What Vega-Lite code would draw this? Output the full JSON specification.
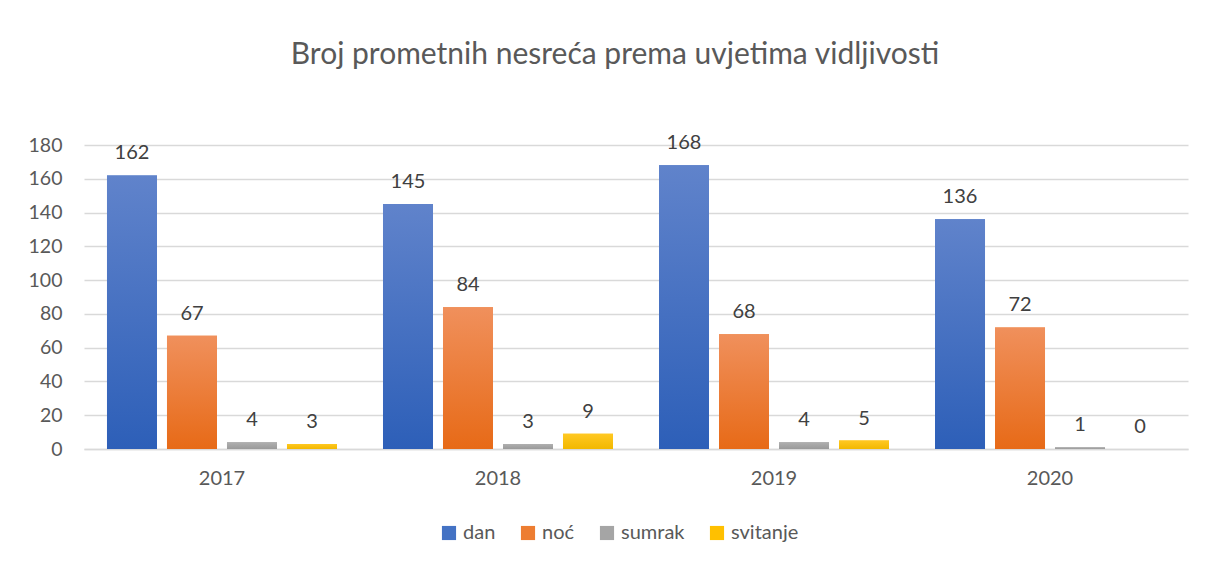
{
  "$schema": "https://vega.github.io/schema/vega-lite/v6.json",
  "width": 1104,
  "height": 304,
  "autosize": {"type": "none"},
  "padding": {"left": 84, "top": 145, "right": 20, "bottom": 115},
  "background": "white",
  "title": {
    "text": "Broj prometnih nesreća prema uvjetima vidljivosti",
    "font": "Lato",
    "fontSize": 30,
    "fontWeight": "normal",
    "color": "#595959",
    "anchor": "middle",
    "offset": 63,
    "dx": -21
  },
  "data": {
    "values": [
      {"godina": "2017", "uvjet": "dan", "broj": 162},
      {"godina": "2017", "uvjet": "noć", "broj": 67},
      {"godina": "2017", "uvjet": "sumrak", "broj": 4},
      {"godina": "2017", "uvjet": "svitanje", "broj": 3},
      {"godina": "2018", "uvjet": "dan", "broj": 145},
      {"godina": "2018", "uvjet": "noć", "broj": 84},
      {"godina": "2018", "uvjet": "sumrak", "broj": 3},
      {"godina": "2018", "uvjet": "svitanje", "broj": 9},
      {"godina": "2019", "uvjet": "dan", "broj": 168},
      {"godina": "2019", "uvjet": "noć", "broj": 68},
      {"godina": "2019", "uvjet": "sumrak", "broj": 4},
      {"godina": "2019", "uvjet": "svitanje", "broj": 5},
      {"godina": "2020", "uvjet": "dan", "broj": 136},
      {"godina": "2020", "uvjet": "noć", "broj": 72},
      {"godina": "2020", "uvjet": "sumrak", "broj": 1},
      {"godina": "2020", "uvjet": "svitanje", "broj": 0}
    ]
  },
  "encoding": {
    "x": {
      "field": "godina",
      "type": "nominal",
      "scale": {"paddingInner": 0.1667, "paddingOuter": 0.0833},
      "axis": {
        "title": null,
        "labelAngle": 0,
        "labelFont": "Lato",
        "labelFontSize": 20,
        "labelColor": "#595959",
        "labelPadding": 19,
        "ticks": false,
        "domainColor": "#d9d9d9",
        "domainWidth": 1.5,
        "grid": false
      }
    },
    "xOffset": {
      "field": "uvjet",
      "type": "nominal",
      "sort": ["dan", "noć", "sumrak", "svitanje"],
      "scale": {"domain": ["dan", "noć", "sumrak", "svitanje"], "paddingInner": 0.1667, "paddingOuter": 0}
    },
    "y": {
      "field": "broj",
      "type": "quantitative",
      "scale": {"domain": [0, 180], "nice": false},
      "axis": {
        "title": null,
        "values": [0, 20, 40, 60, 80, 100, 120, 140, 160, 180],
        "labelFont": "Lato",
        "labelFontSize": 19.5,
        "labelColor": "#595959",
        "labelPadding": 22,
        "ticks": false,
        "domain": false,
        "gridColor": "#d9d9d9",
        "gridWidth": 1.5
      }
    }
  },
  "layer": [
    {
      "mark": {"type": "bar"},
      "encoding": {
        "color": {
          "field": "uvjet",
          "type": "nominal",
          "sort": ["dan", "noć", "sumrak", "svitanje"],
          "scale": {
            "domain": ["dan", "noć", "sumrak", "svitanje"],
            "range": ["#4472c4", "#ed7d31", "#a5a5a5", "#ffc000"]
          },
          "legend": {
            "title": null,
            "orient": "none",
            "legendX": 355,
            "legendY": 378,
            "direction": "horizontal",
            "symbolType": "square",
            "symbolSize": 200,
            "symbolStrokeWidth": 0,
            "labelFont": "Lato",
            "labelFontSize": 20,
            "labelColor": "#595959",
            "columnPadding": 22,
            "labelOffset": 4
          }
        }
      }
    },
    {
      "transform": [{"filter": "datum.uvjet === 'dan'"}],
      "mark": {"type": "bar", "color": {"gradient": "linear", "x1": 0, "y1": 0, "x2": 0, "y2": 1, "stops": [{"offset": 0, "color": "#6083cb"}, {"offset": 1, "color": "#2d5fb8"}]}}
    },
    {
      "transform": [{"filter": "datum.uvjet === 'noć'"}],
      "mark": {"type": "bar", "color": {"gradient": "linear", "x1": 0, "y1": 0, "x2": 0, "y2": 1, "stops": [{"offset": 0, "color": "#f0905c"}, {"offset": 1, "color": "#e76a17"}]}}
    },
    {
      "transform": [{"filter": "datum.uvjet === 'sumrak'"}],
      "mark": {"type": "bar", "color": {"gradient": "linear", "x1": 0, "y1": 0, "x2": 0, "y2": 1, "stops": [{"offset": 0, "color": "#b0b0b0"}, {"offset": 1, "color": "#9a9a9a"}]}}
    },
    {
      "transform": [{"filter": "datum.uvjet === 'svitanje'"}],
      "mark": {"type": "bar", "color": {"gradient": "linear", "x1": 0, "y1": 0, "x2": 0, "y2": 1, "stops": [{"offset": 0, "color": "#ffc822"}, {"offset": 1, "color": "#f2b800"}]}}
    },
    {
      "mark": {
        "type": "text",
        "baseline": "bottom",
        "dy": -12,
        "font": "Lato",
        "fontSize": 20,
        "color": "#404040"
      },
      "encoding": {
        "text": {"field": "broj", "type": "quantitative"}
      }
    }
  ],
  "config": {
    "view": {"stroke": null}
  }
}
